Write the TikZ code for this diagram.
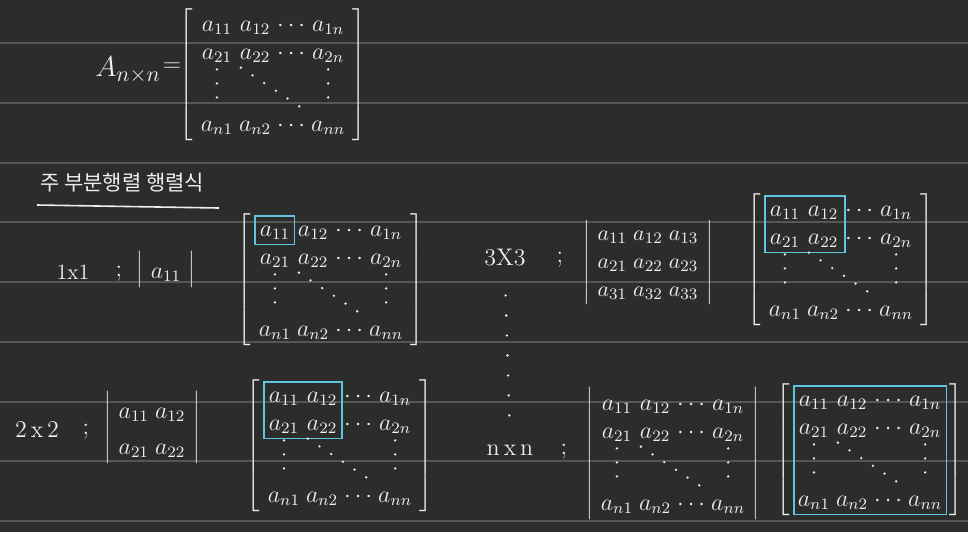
\documentclass[tikz,border=0pt]{standalone}
\usepackage{fontspec}
\newfontfamily\krfont{Noto Sans CJK KR}
\usetikzlibrary{matrix,fit}
\definecolor{BoardClr}{RGB}{44,44,44}
\definecolor{RuleClr}{RGB}{86,86,86}
\definecolor{InkClr}{RGB}{238,238,238}
\definecolor{MarkClr}{RGB}{95,198,224}

\begin{document}
\begin{tikzpicture}[x=0.5pt,y=-0.5pt,color=InkClr,
  entries/.style={matrix of math nodes,inner sep=1.5pt,column sep=1pt,row sep=2pt,
    nodes={minimum width=16pt,text height=8pt,text depth=2pt,inner sep=1pt,font=\fontsize{12}{14}\selectfont},
    every delimiter/.style={minimum width=0pt,text height=,text depth=,inner sep=0.5pt}},
  bmat/.style={entries,left delimiter={[},right delimiter={]}},
  vmat/.style={entries,left delimiter=|,right delimiter=|},
  dotline/.style={line width=1.3pt,line cap=round,dash pattern=on 0pt off 7pt,shorten <=2pt,shorten >=2pt},
  markbox/.style={draw=MarkClr,line width=0.9pt,inner sep=1pt},
  sizetext/.style={font=\fontsize{12}{14}\selectfont}]

% Board and ruled lines.
\path[use as bounding box,fill=BoardClr] (0,0) rectangle (968,532);
\foreach \k in {0,...,8}
  \draw[RuleClr,line width=1pt] (0,43+59.75*\k) -- (968,43+59.75*\k);

% The n x n matrix.
\node[font=\fontsize{15}{17}\selectfont,inner sep=0pt] (lhs) at (128,70) {$A_{n\times n}$};
\node[sizetext,inner sep=0pt] (eq) at (172,67) {$=$};
\matrix (m0) [bmat] at (273,75) {
  a_{11} & a_{12} & \cdots & a_{1n} \\
  a_{21} & a_{22} & \cdots & a_{2n} \\[22pt]
  a_{n1} & a_{n2} & \cdots & a_{nn} \\
};

% Title.
\node[font=\fontsize{10.5}{12}\selectfont] (ttl) at (122,183) {\krfont 주 부분행렬 행렬식};
\draw[line width=0.8pt] (37,205) -- (219,208);

% Step 1x1.
\node[font=\fontsize{11}{13}\selectfont] (t1) at (73,272) {1x1};
\node[sizetext] (s1) at (119,274) {;};
\matrix (d1) [vmat] at (166,272) {
  a_{11} \\
};
\matrix (m1) [bmat] at (331,280) {
  a_{11} & a_{12} & \cdots & a_{1n} \\
  a_{21} & a_{22} & \cdots & a_{2n} \\[22pt]
  a_{n1} & a_{n2} & \cdots & a_{nn} \\
};
\node[markbox,fit=(m1-1-1)] (b1) {};

% Step 2x2.
\node[sizetext] (t2) at (37,430) {2\,x\,2};
\node[sizetext] (s2) at (86,432) {;};
\matrix (d2) [vmat,row sep=6pt] at (152,430) {
  a_{11} & a_{12} \\
  a_{21} & a_{22} \\
};
\matrix (m3) [bmat] at (340,446) {
  a_{11} & a_{12} & \cdots & a_{1n} \\
  a_{21} & a_{22} & \cdots & a_{2n} \\[22pt]
  a_{n1} & a_{n2} & \cdots & a_{nn} \\
};
\node[markbox,fit=(m3-1-1)(m3-2-2)] (b3) {};

% Step 3x3.
\node[sizetext] (t3) at (505,258) {3X3};
\node[sizetext] (s3) at (560,260) {;};
\matrix (d3) [vmat,nodes={font=\fontsize{11}{13}\selectfont}] at (648,262) {
  a_{11} & a_{12} & a_{13} \\
  a_{21} & a_{22} & a_{23} \\
  a_{31} & a_{32} & a_{33} \\
};
\matrix (m2) [bmat] at (841,260) {
  a_{11} & a_{12} & \cdots & a_{1n} \\
  a_{21} & a_{22} & \cdots & a_{2n} \\[22pt]
  a_{n1} & a_{n2} & \cdots & a_{nn} \\
};
\node[markbox,fit=(m2-1-1)(m2-2-2)(m2-2-3.west)] (b2) {};

% Step nxn.
\node[sizetext] (tn) at (510,450) {n\,x\,n};
\node[sizetext] (sn) at (564,452) {;};
\matrix (dn) [vmat] at (673,454) {
  a_{11} & a_{12} & \cdots & a_{1n} \\
  a_{21} & a_{22} & \cdots & a_{2n} \\[22pt]
  a_{n1} & a_{n2} & \cdots & a_{nn} \\
};
\matrix (m4) [bmat] at (870,450) {
  a_{11} & a_{12} & \cdots & a_{1n} \\
  a_{21} & a_{22} & \cdots & a_{2n} \\[22pt]
  a_{n1} & a_{n2} & \cdots & a_{nn} \\
};
\node[markbox,fit=(m4-1-1)(m4-3-4)] (b4) {};

% Dots between the steps.
\draw[line width=1.3pt,line cap=round,dash pattern=on 0pt off 10pt,shorten <=11pt,shorten >=8pt] (t3.south) -- (tn.north);

% Dots inside the big matrices.
\foreach \m in {m0,m1,m2,m3,dn,m4}{
  \draw[dotline] (\m-2-1.south) -- (\m-3-1.north);
  \draw[dotline] (\m-2-2.south west) -- (\m-3-4.north west);
  \draw[dotline] (\m-2-4.south) -- (\m-3-4.north);
}

\end{tikzpicture}
\end{document}
